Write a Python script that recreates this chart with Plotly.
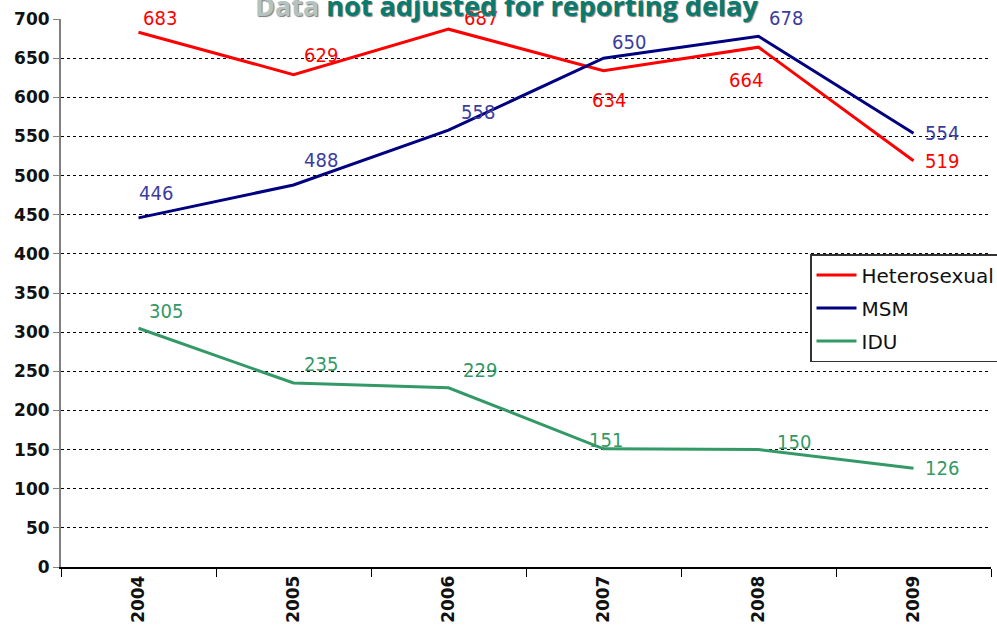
import plotly.graph_objects as go

years = ["2004", "2005", "2006", "2007", "2008", "2009"]
hetero = [683, 629, 687, 634, 664, 519]
msm = [446, 488, 558, 650, 678, 554]
idu = [305, 235, 229, 151, 150, 126]

# label offsets in pixels (dx, dy up)
hetero_off = [(21, 14), (27, 20), (32, 11), (5, -29), (-13, -33), (28, 0)]
msm_off = [(17, 25), (27, 25), (29, 18), (25, 16), (27, 18), (28, 0)]
idu_off = [(27, 17), (27, 19), (31, 18), (2, 9), (35, 8), (28, 0)]

series = [
    ("Heterosexual", hetero, "#FF0000", "#FF0000", hetero_off),
    ("MSM", msm, "#000080", "#3C3CA0", msm_off),
    ("IDU", idu, "#339966", "#339966", idu_off),
]

label_font = "Liberation Sans Narrow, DejaVu Sans Condensed, Arial Narrow, sans-serif"
axis_font = "DejaVu Sans, Verdana, sans-serif"

fig = go.Figure()
annotations = []
for name, vals, lc, tc, offs in series:
    fig.add_trace(go.Scatter(x=years, y=vals, mode="lines", name=name,
                             legendgroup=name,
                             line=dict(color=lc, width=3)))
    for i, (v, (dx, dy)) in enumerate(zip(vals, offs)):
        annotations.append(dict(x=i, y=v, xref="x", yref="y", text=str(v),
                                showarrow=False, xshift=dx, yshift=dy,
                                font=dict(family=label_font, size=20, color=tc)))

annotations.append(dict(
    x=0.479, y=1.0, xref="paper", yref="paper", xanchor="center", yanchor="bottom",
    yshift=-7,
    text="<span style='color:#B4C2C0'>Data</span> not adjusted for reporting delay",
    showarrow=False,
    font=dict(family="Open Sans, sans-serif", size=27, color="#0B7A6E", weight="bold",
              shadow="1px 1px 1px #7d7d7d")))

fig.update_layout(
    width=997, height=630,
    margin=dict(l=61, r=6, t=19, b=63, autoexpand=False),
    paper_bgcolor="white", plot_bgcolor="white",
    annotations=annotations,
    showlegend=True,
    legend=dict(x=(810 - 61) / 930, y=(567 - 254) / 548, xanchor="left", yanchor="top",
                bgcolor="white", bordercolor="#333333", borderwidth=1.5,
                font=dict(family=axis_font, size=20, color="#111111"),
                itemwidth=40, tracegroupgap=4, traceorder="grouped"),
)
fig.update_xaxes(type="category", range=[-0.5, 5.5], tickson="boundaries",
                 ticks="outside", ticklen=8, tickcolor="#000000",
                 showline=True, linecolor="#000000", linewidth=1.5,
                 showgrid=False, tickangle=-90,
                 tickfont=dict(family=axis_font, size=17, color="#111111", weight="bold"))
fig.update_yaxes(range=[0, 700], dtick=50, ticks="outside", ticklen=6,
                 tickcolor="#808080", showline=True, linecolor="#808080", linewidth=2,
                 showgrid=True, gridcolor="#000000", gridwidth=1, griddash="dot",
                 zeroline=False,
                 tickfont=dict(family=axis_font, size=17, color="#111111", weight="bold"))

fig.write_html("out.html", config={"displayModeBar": False},
               post_script="document.body.style.margin='0';document.body.style.overflow='hidden';")
